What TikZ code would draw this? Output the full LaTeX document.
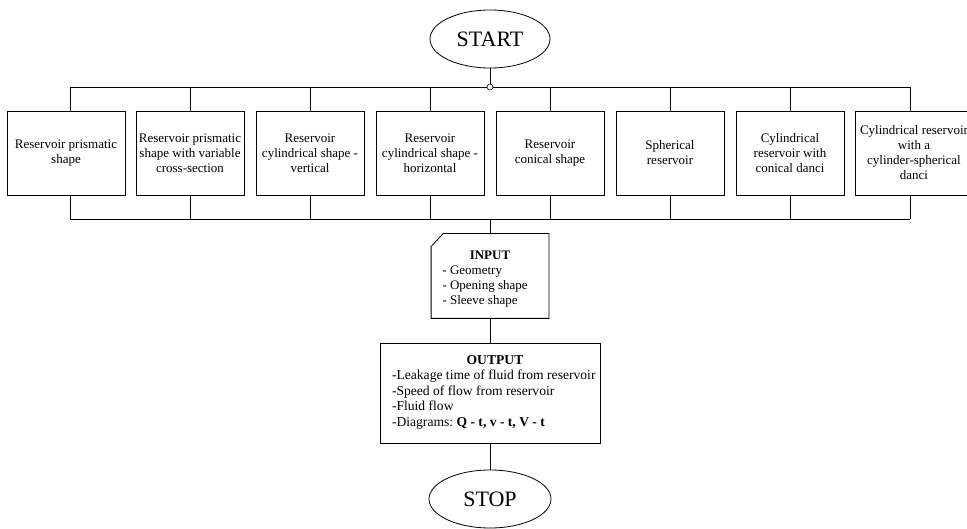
\documentclass[tikz,border=0pt]{standalone}
\usepackage{fontspec}
\setmainfont{Liberation Serif}
\usepackage{tikz}
\usetikzlibrary{shapes.geometric,calc}

\newcommand{\boxfont}{\fontsize{13}{15}\selectfont}
% text block of an input/output box: shift, width, heading, lines
\newcommand{\ioblock}[4]{\raisebox{#1}[\height][\depth]{\parbox{#2}{\centering\textbf{#3}\par\raggedright #4}}}
\frenchspacing

\begin{document}
\begin{tikzpicture}[
    x=1pt, y=-1pt,
    line width=0.8pt,
    term/.style={ellipse, draw, minimum width=120pt, minimum height=58pt, inner sep=0pt, font=\fontsize{22}{24}\selectfont},
    shapebox/.style={rectangle, draw, minimum width=108pt, minimum height=84pt, inner sep=0pt, align=center, font=\boxfont},
    widebox/.style={shapebox, minimum width=118pt},
    iobox/.style={rectangle, inner sep=0pt, font=\boxfont},
    dot/.style={circle, draw, fill=white, inner sep=0pt, minimum size=6pt, line width=0.6pt},
]
\useasboundingbox (0,0) rectangle (967,529);

% Start
\node[term] (start) at (490,39) {START};
\node[dot] (junc) at (490,87) {};

% Reservoir shapes
\node[widebox] (b1) at (66,153) {Reservoir prismatic\\shape};
\node[shapebox] (b2) at (190,153) {Reservoir prismatic\\shape with variable\\cross-section};
\node[shapebox] (b3) at (310,153) {Reservoir\\cylindrical shape -\\vertical};
\node[shapebox] (b4) at (430,153) {Reservoir\\cylindrical shape -\\horizontal};
\node[shapebox] (b5) at (550,153) {Reservoir\\conical shape};
\node[shapebox] (b6) at (670,153) {Spherical\\reservoir};
\node[shapebox] (b7) at (790,153) {Cylindrical\\reservoir with\\conical danci};
\node[widebox] (b8) at (914,153) {Cylindrical reservoir\\with a\\cylinder-spherical\\danci};

% Input / output
\node[iobox, minimum width=117pt, minimum height=84pt] (inp) at (490,276)
  {\ioblock{-3pt}{95pt}{INPUT}{- Geometry\\- Opening shape\\- Sleeve shape}};
\node[iobox, draw, minimum width=220pt, minimum height=100pt, font=\fontsize{13.6}{15.5}\selectfont] (outp) at (490,393)
  {\hspace{10pt}\ioblock{1pt}{206pt}{OUTPUT}{-Leakage time of fluid from reservoir\\-Speed of flow from reservoir\\-Fluid flow\\-Diagrams: \textbf{Q - t, v - t, V - t}}};

% Stop
\node[term, minimum width=122pt] (stop) at (490,499) {STOP};

% Buses
\foreach \i in {1,...,8} {
  \coordinate (t\i) at (-50+120*\i,87);
  \coordinate (u\i) at (-50+120*\i,219);
  \draw (t\i) -- (t\i |- b\i.north);
  \draw (u\i |- b\i.south) -- (u\i);
}
\draw (t1) -- (junc.west);
\draw (junc.east) -- (t8);
\draw (u1) -- (u8);
\coordinate (join) at (490,219);

% Connectors
\draw (start) -- (junc);
\draw (join) -- (inp.north);
\draw (inp.south west) -- ([yshift=-13pt]inp.north west) -- ([xshift=12pt]inp.north west)
  -- (inp.north east) -- (inp.south east) -- cycle;
\draw (inp.south) -- (outp.north);
\draw (outp.south) -- (stop);

\end{tikzpicture}
\end{document}
